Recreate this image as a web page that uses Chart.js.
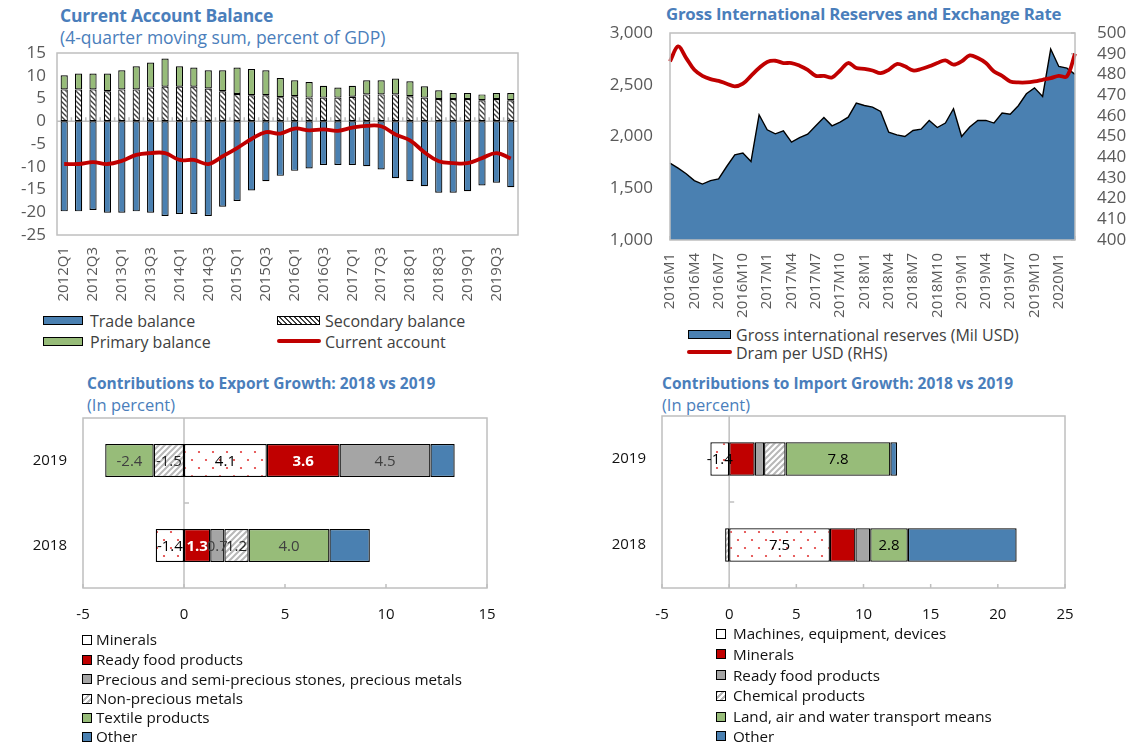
<!DOCTYPE html>
<html><head><meta charset="utf-8">
<script src="https://cdn.jsdelivr.net/npm/chart.js@4/dist/chart.umd.min.js"></script>
<style>
html,body{margin:0;padding:0;background:#fff}
body{width:1127px;height:746px;position:relative;overflow:hidden;font-family:"Open Sans",sans-serif}
.t{position:absolute;white-space:nowrap;color:#4a7ebb;line-height:20px}
.tb{font-weight:bold;font-size:17.5px;letter-spacing:-0.2px}
.ts{font-size:17.5px}
.tb2{font-weight:bold;font-size:15.5px}
.ts2{font-size:16.5px}
.lg{position:absolute;white-space:nowrap;font-size:16px;line-height:20px;color:#404040}
.lb{font-size:15.2px;color:#111}
.sw{position:absolute;box-sizing:border-box;border:1.3px solid #000}
.ln{position:absolute;height:3.5px;background:#c00000;border-radius:2px}
canvas{position:absolute}
</style></head>
<body>
<div class="t tb" style="left:60px;top:5px">Current Account Balance</div>
<div class="t ts" style="left:60px;top:27px">(4-quarter moving sum, percent of GDP)</div>
<div class="t tb" style="left:666px;top:4px;font-size:16.8px">Gross International Reserves and Exchange Rate</div>
<div class="t tb2" style="left:87px;top:373px">Contributions to Export Growth: 2018 vs 2019</div>
<div class="t ts2" style="left:87px;top:395px">(In percent)</div>
<div class="t tb2" style="left:662px;top:373px">Contributions to Import Growth: 2018 vs 2019</div>
<div class="t ts2" style="left:662px;top:395px">(In percent)</div>

<canvas id="c1" width="560" height="270" style="left:0;top:40px"></canvas>
<canvas id="c2" width="567" height="300" style="left:560px;top:20px"></canvas>
<canvas id="c3" width="560" height="230" style="left:0;top:400px"></canvas>
<canvas id="c4" width="567" height="230" style="left:560px;top:400px"></canvas>

<!-- legend top-left -->
<div class="sw" style="left:43px;top:316px;width:40px;height:9px;background:#4a80b1"></div>
<div class="lg" style="left:90px;top:311px">Trade balance</div>
<div class="sw" style="left:277px;top:316px;width:43px;height:9px;background:repeating-linear-gradient(45deg,#fff 0 2px,#404040 2px 3.5px)"></div>
<div class="lg" style="left:325px;top:311px">Secondary balance</div>
<div class="sw" style="left:43px;top:337px;width:40px;height:9px;background:#97bc79"></div>
<div class="lg" style="left:90px;top:332px">Primary balance</div>
<div class="ln" style="left:277px;top:339px;width:44px"></div>
<div class="lg" style="left:325px;top:332px">Current account</div>

<!-- legend top-right -->
<div class="sw" style="left:688px;top:330px;width:43px;height:9px;background:#4a80b1"></div>
<div class="lg" style="left:736px;top:325px">Gross international reserves (Mil USD)</div>
<div class="ln" style="left:687px;top:350px;width:45px"></div>
<div class="lg" style="left:736px;top:343px">Dram per USD (RHS)</div>

<!-- legend bottom-left -->
<div class="sw" style="left:82px;top:635px;width:10px;height:10px;background:#fff"></div>
<div class="lg lb" style="left:96px;top:629px">Minerals</div>
<div class="sw" style="left:82px;top:655px;width:10px;height:10px;background:#c00000"></div>
<div class="lg lb" style="left:96px;top:649px">Ready food products</div>
<div class="sw" style="left:82px;top:674px;width:10px;height:10px;background:#a5a5a5"></div>
<div class="lg lb" style="left:96px;top:669px">Precious and semi-precious stones, precious metals</div>
<div class="sw" style="left:82px;top:694px;width:10px;height:10px;background:repeating-linear-gradient(-45deg,#fff 0 2px,#b5b5b5 2px 4px)"></div>
<div class="lg lb" style="left:96px;top:688px">Non-precious metals</div>
<div class="sw" style="left:82px;top:713px;width:10px;height:10px;background:#97bc79"></div>
<div class="lg lb" style="left:96px;top:707px">Textile products</div>
<div class="sw" style="left:82px;top:732px;width:10px;height:10px;background:#4a80b1"></div>
<div class="lg lb" style="left:96px;top:726px">Other</div>

<!-- legend bottom-right -->
<div class="sw" style="left:716px;top:629px;width:10px;height:10px;background:#fff"></div>
<div class="lg lb" style="left:733px;top:623px">Machines, equipment, devices</div>
<div class="sw" style="left:716px;top:649px;width:10px;height:10px;background:#c00000"></div>
<div class="lg lb" style="left:733px;top:644px">Minerals</div>
<div class="sw" style="left:716px;top:670px;width:10px;height:10px;background:#a5a5a5"></div>
<div class="lg lb" style="left:733px;top:665px">Ready food products</div>
<div class="sw" style="left:716px;top:691px;width:10px;height:10px;background:repeating-linear-gradient(-45deg,#fff 0 2px,#b5b5b5 2px 4px)"></div>
<div class="lg lb" style="left:733px;top:685px">Chemical products</div>
<div class="sw" style="left:716px;top:712px;width:10px;height:10px;background:#97bc79"></div>
<div class="lg lb" style="left:733px;top:706px">Land, air and water transport means</div>
<div class="sw" style="left:716px;top:731px;width:10px;height:10px;background:#4a80b1"></div>
<div class="lg lb" style="left:733px;top:726px">Other</div>

<script>
// ---------- DATA ----------
const quarters = ['2012Q1','2012Q2','2012Q3','2012Q4','2013Q1','2013Q2','2013Q3','2013Q4',
  '2014Q1','2014Q2','2014Q3','2014Q4','2015Q1','2015Q2','2015Q3','2015Q4',
  '2016Q1','2016Q2','2016Q3','2016Q4','2017Q1','2017Q2','2017Q3','2017Q4',
  '2018Q1','2018Q2','2018Q3','2018Q4','2019Q1','2019Q2','2019Q3','2019Q4'];
const tradeBalance = [-19.8,-19.8,-19.5,-20.1,-20.1,-19.8,-20.1,-20.8,-20.4,-20.4,-20.8,-18.8,-17.5,-15.2,-13.2,-12.0,
  -10.9,-10.4,-9.6,-9.6,-9.6,-9.9,-10.6,-12.5,-13.2,-14.3,-15.7,-15.7,-15.4,-14.1,-13.5,-14.5];
const secondaryBalance = [7.0,7.0,7.0,6.6,7.0,7.0,7.4,7.6,7.6,7.6,7.2,6.6,6.0,5.7,5.7,5.3,
  5.5,5.2,5.2,5.2,5.4,5.9,5.9,5.9,5.5,5.2,4.9,4.9,4.9,4.6,4.9,4.6];
const primaryBalance = [3.1,3.5,3.5,3.9,4.2,5.1,5.5,6.2,4.5,4.2,4.0,4.6,5.8,5.8,5.5,4.2,
  3.5,3.4,2.6,2.2,2.4,3.1,3.1,3.5,3.3,2.5,1.9,1.3,1.3,1.3,1.3,1.6];
const currentAccount = [-9.4,-9.4,-9.0,-9.4,-8.7,-7.4,-7.0,-7.0,-8.5,-8.5,-9.4,-7.7,-5.9,-3.9,-2.4,-2.7,
  -1.6,-2.0,-1.8,-2.1,-1.4,-1.0,-1.1,-2.9,-4.2,-6.8,-8.8,-9.2,-9.2,-8.1,-7.0,-8.2];
const caYTicks = {min:-25, max:15, step:5};

const months = ['2016M1','2016M2','2016M3','2016M4','2016M5','2016M6','2016M7','2016M8','2016M9','2016M10','2016M11','2016M12',
  '2017M1','2017M2','2017M3','2017M4','2017M5','2017M6','2017M7','2017M8','2017M9','2017M10','2017M11','2017M12',
  '2018M1','2018M2','2018M3','2018M4','2018M5','2018M6','2018M7','2018M8','2018M9','2018M10','2018M11','2018M12',
  '2019M1','2019M2','2019M3','2019M4','2019M5','2019M6','2019M7','2019M8','2019M9','2019M10','2019M11','2019M12',
  '2020M1','2020M2','2020M3'];
const reserves = [1742,1694,1640,1574,1540,1574,1590,1710,1823,1840,1758,2210,
  2065,2026,2055,1945,1990,2023,2103,2184,2103,2139,2187,2323,
  2300,2284,2242,2042,2016,2000,2058,2071,2155,2087,2130,2268,
  2000,2091,2155,2155,2130,2226,2216,2297,2413,2470,2387,2845,
  2677,2660,2600];
const dramPerUsd = [486.3,493.5,487.9,482.2,479.3,477.7,476.9,475.5,474.2,475.5,479.3,483.1,
  486.0,486.6,485.5,485.5,484.2,482.2,479.3,479.3,478.5,481.9,485.5,483.1,
  482.7,481.9,480.6,482.2,485.0,483.9,481.9,482.6,483.9,485.5,486.8,484.7,
  486.3,489.2,487.9,485.5,481.4,479.3,476.6,476.1,476.1,476.6,477.4,478.2,
  479.3,479.0,490.0];

const years = ['2019','2018'];
const expMinerals = [4.1,-1.4];
const expReadyFood = [3.6,1.3];
const expPrecious = [4.5,0.7];
const expNonPrecious = [-1.5,1.2];
const expTextile = [-2.4,4.0];
const expOther = [1.2,2.0];

const impMachines = [-1.4,7.5];
const impMinerals = [1.9,1.9];
const impReadyFood = [0.7,1.1];
const impChemical = [1.6,-0.3];
const impTransport = [7.8,2.8];
const impOther = [0.5,8.1];

// ---------- STYLE ----------
const BLUE='#4a80b1', GREEN='#97bc79', RED='#c00000', GRAY='#a5a5a5';
const FONT='"Open Sans", sans-serif';
Chart.defaults.font.family = FONT;

function tile(w,h,draw){const c=document.createElement('canvas');c.width=w;c.height=h;const g=c.getContext('2d');draw(g,w,h);return g.createPattern(c,'repeat');}
const dotsPat = tile(14,16,(g,w,h)=>{g.fillStyle='#fff';g.fillRect(0,0,w,h);g.fillStyle='#e23a3a';
  [[3,4],[10,12]].forEach(p=>{g.beginPath();g.arc(p[0],p[1],1.1,0,Math.PI*2);g.fill();});});
const darkHatch = tile(5,5,(g,w,h)=>{g.fillStyle='#fff';g.fillRect(0,0,w,h);g.strokeStyle='#404040';g.lineWidth=1.4;
  g.beginPath();g.moveTo(-1,-1);g.lineTo(w+1,h+1);g.moveTo(-1,h-1);g.lineTo(1,h+1);g.moveTo(w-1,-1);g.lineTo(w+1,1);g.stroke();});
const lightHatch = tile(6,6,(g,w,h)=>{g.fillStyle='#fff';g.fillRect(0,0,w,h);g.strokeStyle='#b8b8b8';g.lineWidth=2;
  g.beginPath();g.moveTo(-1,h+1);g.lineTo(w+1,-1);g.moveTo(-1,1);g.lineTo(1,-1);g.moveTo(w-1,h+1);g.lineTo(w+1,h-1);g.stroke();});

// frame / zero line / inner ticks plugin
const framePlugin = {
  id:'frame',
  beforeDatasetsDraw(chart,args,o){
    const {ctx,chartArea:a,scales}=chart;
    ctx.save();ctx.strokeStyle='#bfbfbf';ctx.lineWidth=1.5;
    const L=(x1,y1,x2,y2)=>{ctx.beginPath();ctx.moveTo(x1,y1);ctx.lineTo(x2,y2);ctx.stroke();};
    if(o.mode==='ca'){
      const y=scales.y.getPixelForValue(0); L(a.left,y,a.right,y);
      const n=chart.data.labels.length;
      for(let i=1;i<n;i++){const x=a.left+i*a.width/n;L(x,y,x,y-4);}
    }
    if(o.mode==='res'){
      const n=chart.data.labels.length;
      for(let i=0;i<n;i++){const x=scales.x.getPixelForValue(i);L(x,a.bottom,x,a.bottom-4);}
      scales.y1.ticks.forEach(t=>{const y=scales.y1.getPixelForValue(t.value);L(a.right,y,a.right-4,y);});
    }
    if(o.mode==='hbar'){
      const x0=scales.x.getPixelForValue(0); L(x0,a.top,x0,a.bottom);
      const mid=(a.top+a.bottom)/2; L(x0,mid,x0+5,mid);
      scales.x.ticks.forEach(t=>{const x=scales.x.getPixelForValue(t.value);L(x,a.bottom,x,a.bottom-4);});
    }
    ctx.restore();
  },
  afterDraw(chart){
    const {ctx,chartArea:a}=chart;ctx.save();ctx.strokeStyle='#bfbfbf';ctx.lineWidth=1.5;
    ctx.strokeRect(a.left,a.top,a.width,a.height);ctx.restore();
  }
};
// bar value labels plugin
const labelPlugin = {
  id:'barLabels',
  afterDatasetsDraw(chart){
    const {ctx}=chart;
    chart.data.datasets.forEach((ds,di)=>{
      if(!ds.showValue) return;
      const meta=chart.getDatasetMeta(di);
      meta.data.forEach((el,i)=>{
        const v=ds.data[i]; const p=el.getProps(['x','y','base'],true);
        ctx.save();ctx.fillStyle=ds.valueColor||'#000';
        ctx.font=(ds.valueBold?'bold ':'')+'15px '+FONT;
        ctx.textAlign='center';ctx.textBaseline='middle';
        ctx.fillText(v.toFixed(1),(p.x+p.base)/2,p.y+1);ctx.restore();
      });
    });
  }
};
Chart.register(framePlugin,labelPlugin);

const noGrid={display:false,drawTicks:false};
const noBorder={display:false};
// fix an axis box size and drop the label-overflow padding so the plot area lands where wanted
const fixW=w=>s=>{s.width=w;s.paddingTop=0;s.paddingBottom=0;s.paddingLeft=0;s.paddingRight=0;};
const fixH=h=>s=>{s.height=h;s.paddingTop=0;s.paddingBottom=0;s.paddingLeft=0;s.paddingRight=0;};

// ---------- CHART 1 ----------
const barCommon={borderColor:'#000',borderWidth:1.2,barPercentage:0.5,categoryPercentage:1,stack:'bars',order:1,borderSkipped:false};
new Chart(document.getElementById('c1'),{
  type:'bar',
  data:{labels:quarters,datasets:[
    {type:'line',label:'Current account',data:currentAccount,borderColor:RED,borderWidth:3.8,pointRadius:0,tension:0.4,order:0,stack:'line',fill:false},
    {label:'Trade balance',data:tradeBalance,backgroundColor:BLUE,...barCommon},
    {label:'Secondary balance',data:secondaryBalance,backgroundColor:darkHatch,...barCommon},
    {label:'Primary balance',data:primaryBalance,backgroundColor:GREEN,...barCommon}
  ]},
  options:{responsive:false,animation:false,events:[],
    layout:{padding:{left:0,top:13,right:42,bottom:0}},
    plugins:{legend:{display:false},tooltip:{enabled:false},frame:{mode:'ca'}},
    scales:{
      x:{stacked:true,grid:noGrid,border:noBorder,
        ticks:{autoSkip:false,minRotation:90,maxRotation:90,padding:12,color:'#595959',font:{size:15},
          callback:(v,i)=>i%2===0?quarters[i]:''},
        afterFit:fixH(75)},
      y:{stacked:true,min:caYTicks.min,max:caYTicks.max,grid:noGrid,border:noBorder,
        ticks:{stepSize:caYTicks.step,autoSkip:false,padding:11,color:'#595959',font:{size:17}},
        afterFit:fixW(57)}
    }}
});

// ---------- CHART 2 ----------
new Chart(document.getElementById('c2'),{
  type:'line',
  data:{labels:months,datasets:[
    {label:'Dram per USD (RHS)',data:dramPerUsd,yAxisID:'y1',borderColor:RED,borderWidth:3.8,pointRadius:0,tension:0.35,order:0,fill:false},
    {label:'Gross international reserves (Mil USD)',data:reserves,yAxisID:'y',borderColor:'#000',borderWidth:1.4,backgroundColor:BLUE,pointRadius:0,tension:0,fill:'start',order:1}
  ]},
  options:{responsive:false,animation:false,events:[],
    layout:{padding:{left:0,top:13,right:0,bottom:0}},
    plugins:{legend:{display:false},tooltip:{enabled:false},frame:{mode:'res'}},
    scales:{
      x:{grid:noGrid,border:noBorder,offset:false,
        ticks:{autoSkip:false,minRotation:90,maxRotation:90,padding:13,color:'#595959',font:{size:15},
          callback:(v,i)=>i%3===0?months[i]:''},
        afterFit:fixH(80)},
      y:{position:'left',min:1000,max:3000,grid:noGrid,border:noBorder,
        ticks:{stepSize:500,autoSkip:false,padding:17,color:'#595959',font:{size:17},callback:v=>v.toLocaleString('en-US')},
        afterFit:fixW(110)},
      y1:{position:'right',min:400,max:500,grid:noGrid,border:noBorder,
        ticks:{stepSize:10,autoSkip:false,padding:22,color:'#595959',font:{size:17}},
        afterFit:fixW(52)}
    }}
});

// ---------- CHART 3 & 4 ----------
function hbar(id,datasets,xmin,xmax,yw,pad){
  new Chart(document.getElementById(id),{
    type:'bar',
    data:{labels:years,datasets},
    options:{indexAxis:'y',responsive:false,animation:false,events:[],
      layout:{padding:pad},
      plugins:{legend:{display:false},tooltip:{enabled:false},frame:{mode:'hbar'}},
      scales:{
        x:{stacked:true,min:xmin,max:xmax,grid:noGrid,border:noBorder,
          ticks:{stepSize:5,autoSkip:false,padding:18,color:'#111',font:{size:15}},
          afterFit:fixH(42)},
        y:{stacked:true,grid:noGrid,border:noBorder,
          ticks:{padding:16,color:'#111',font:{size:15}},
          afterFit:fixW(yw)}
      }}
  });
}
const hb={borderColor:'#000',borderWidth:1.3,barPercentage:0.39,categoryPercentage:1,borderSkipped:false};
hbar('c3',[
  {label:'Minerals',data:expMinerals,backgroundColor:dotsPat,...hb,showValue:true,valueColor:'#000'},
  {label:'Ready food products',data:expReadyFood,backgroundColor:RED,...hb,showValue:true,valueColor:'#fff',valueBold:true},
  {label:'Precious and semi-precious stones, precious metals',data:expPrecious,backgroundColor:GRAY,...hb,showValue:true,valueColor:'#404040'},
  {label:'Non-precious metals',data:expNonPrecious,backgroundColor:lightHatch,...hb,showValue:true,valueColor:'#222'},
  {label:'Textile products',data:expTextile,backgroundColor:GREEN,...hb,showValue:true,valueColor:'#404040'},
  {label:'Other',data:expOther,backgroundColor:BLUE,...hb}
],-5,15,83,{left:0,top:18,right:73,bottom:0});
hbar('c4',[
  {label:'Machines, equipment, devices',data:impMachines,backgroundColor:dotsPat,...hb,showValue:true,valueColor:'#000'},
  {label:'Minerals',data:impMinerals,backgroundColor:RED,...hb},
  {label:'Ready food products',data:impReadyFood,backgroundColor:GRAY,...hb},
  {label:'Chemical products',data:impChemical,backgroundColor:lightHatch,...hb},
  {label:'Land, air and water transport means',data:impTransport,backgroundColor:GREEN,...hb,showValue:true,valueColor:'#000'},
  {label:'Other',data:impOther,backgroundColor:BLUE,...hb}
],-5,25,102,{left:0,top:16,right:62,bottom:0});
</script>
</body></html>
